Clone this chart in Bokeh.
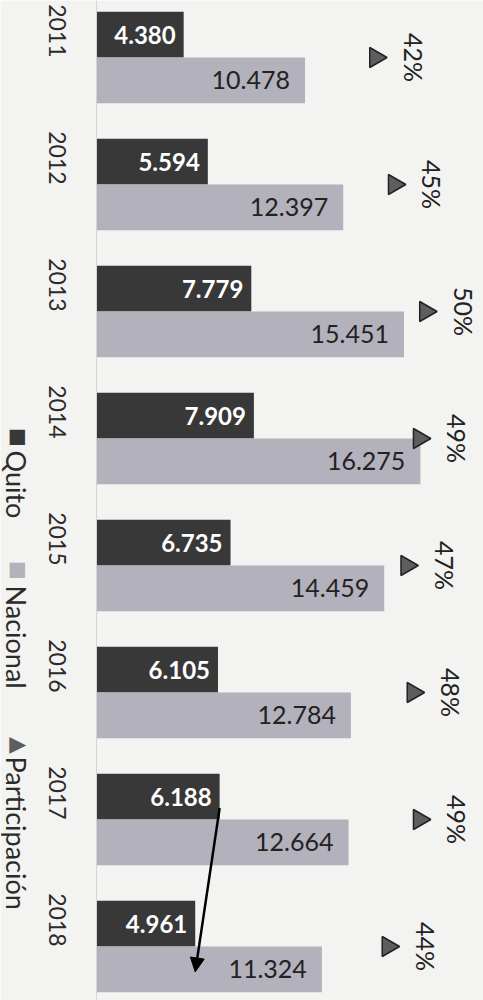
import math
from bokeh.plotting import figure
from bokeh.models import (Range1d, FixedTicker, ColumnDataSource, Label,
                          Arrow, NormalHead)
from bokeh.core.properties import value
from bokeh.transform import dodge
from bokeh.embed import file_html
from bokeh.resources import INLINE

# ---------------- data ----------------
years = ["2011", "2012", "2013", "2014", "2015", "2016", "2017", "2018"]
quito = [4.380, 5.594, 7.779, 7.909, 6.735, 6.105, 6.188, 4.961]
nacional = [10.478, 12.397, 15.451, 16.275, 14.459, 12.784, 12.664, 11.324]
participacion = [42, 45, 50, 49, 47, 48, 49, 44]
series_names = ["Quito", "Nacional", "Participación"]

# ---------------- styling ----------------
BG = "#f3f3f1"
QUITO_C = "#383838"
NAC_C = "#b2b1bc"
TRI_FILL = "#5e5e5e"
TRI_LINE = "#222222"
FONT = "Lato"
ROT = -math.pi / 2

W, H = 483, 1000
X0 = 96          # pixel of value 0
XS = 19.9        # pixels per thousand
Y0 = 57          # pixel of first category
YS = 127         # pixels per category
P0, PS = 375, 6.25   # pixel of 42 %, pixels per %

idx = list(range(len(years)))
src = ColumnDataSource(dict(
    idx=idx,
    quito=quito,
    nacional=nacional,
    pct=participacion,
    qlab=[f"{v:.3f}" for v in quito],
    nlab=[f"{v:.3f}" for v in nacional],
    plab=[f"{v}%" for v in participacion],
))

p = figure(width=W, height=H, output_backend="svg", toolbar_location=None,
           x_range=Range1d(-X0 / XS, (W - X0) / XS),
           y_range=Range1d((H - Y0) / YS, -Y0 / YS),
           min_border=0, min_border_left=0, min_border_right=0,
           min_border_top=0, min_border_bottom=0)
p.extra_x_ranges = {"pct": Range1d(42 - P0 / PS, 42 + (W - P0) / PS)}

p.background_fill_color = BG
p.border_fill_color = BG
p.outline_line_color = None
p.xgrid.visible = False
p.ygrid.visible = False
p.xaxis.visible = False

yax = p.yaxis[0]
yax.fixed_location = 0
yax.ticker = FixedTicker(ticks=idx)
yax.major_label_overrides = {i: y for i, y in zip(idx, years)}
yax.major_label_orientation = ROT
yax.major_label_text_font = FONT
yax.major_label_text_font_size = "23px"
yax.major_label_text_color = "#2b2b2b"
yax.major_label_standoff = 39
yax.major_tick_out = 0
yax.major_tick_in = 0
yax.minor_tick_out = 0
yax.minor_tick_in = 0
yax.axis_line_color = "#d4d4d4"
yax.axis_line_width = 1

# bars
p.hbar(y=dodge("idx", -0.18, range=p.y_range), right="quito", left=0,
       height=0.36, source=src, fill_color=QUITO_C, line_color=None)
p.hbar(y=dodge("idx", 0.18, range=p.y_range), right="nacional", left=0,
       height=0.36, source=src, fill_color=NAC_C, line_color=None)

# value labels
p.text(x="quito", y=dodge("idx", -0.18, range=p.y_range), text="qlab", source=src,
       text_align="right", text_baseline="middle", x_offset=-8,
       text_font=value(FONT), text_font_style="bold", text_font_size="24px",
       text_color="white")
p.text(x="nacional", y=dodge("idx", 0.18, range=p.y_range), text="nlab", source=src,
       text_align="right", text_baseline="middle", x_offset=-15,
       text_font=value(FONT), text_font_size="25px", text_color="#222222")

# participation markers and labels
p.scatter(x="pct", y="idx", source=src, x_range_name="pct", marker="triangle",
          size=20, angle=ROT, fill_color=TRI_FILL, line_color=TRI_LINE, line_width=1.5)
p.text(x="pct", y="idx", text="plab", source=src, x_range_name="pct",
       angle=ROT, text_align="center", text_baseline="middle", x_offset=38,
       text_font=value(FONT), text_font_size="25px", text_color="#222222")

# hand-drawn arrow from Quito 2017 to Quito 2018
p.add_layout(Arrow(end=NormalHead(size=14, fill_color="black", line_color="black"),
                   x_start=quito[6], y_start=idx[6] - 0.09,
                   x_end=quito[7], y_end=idx[7] + 0.2,
                   line_color="black", line_width=2.5))

# rotated legend (screen units, y measured from bottom)
def sy(page_y):
    return H - page_y

leg = [
    ("■", series_names[0], QUITO_C, 437, 450),
    ("■", series_names[1], NAC_C, 570, 585),
]
for sym, name, col, my, ty in leg:
    p.add_layout(Label(x=18, y=sy(my), x_units="screen", y_units="screen",
                       text=sym, text_font="DejaVu Sans", text_font_size="20px",
                       text_color=col, text_align="center", text_baseline="middle",
                       angle=ROT))
    p.add_layout(Label(x=16, y=sy(ty), x_units="screen", y_units="screen",
                       text=name, text_font=FONT, text_font_size="27px",
                       text_color="#2b2b2b", text_align="left", text_baseline="middle",
                       angle=ROT))
p.add_layout(Label(x=19, y=sy(745), x_units="screen", y_units="screen",
                   text="▲", text_font="DejaVu Sans", text_font_size="22px",
                   text_color=TRI_FILL, text_align="center", text_baseline="middle",
                   angle=ROT))
p.add_layout(Label(x=16, y=sy(756), x_units="screen", y_units="screen",
                   text=series_names[2], text_font=FONT, text_font_size="27px",
                   text_color="#2b2b2b", text_align="left", text_baseline="middle",
                   angle=ROT))

open("out.html", "w").write(file_html(p, INLINE))
